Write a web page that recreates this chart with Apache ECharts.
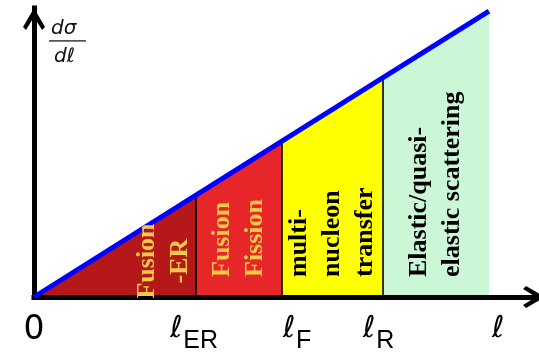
<!DOCTYPE html>
<html>
<head>
<meta charset="utf-8">
<script src="https://cdn.jsdelivr.net/npm/echarts@6/dist/echarts.min.js"></script>
<style>
  html, body { margin: 0; padding: 0; background: #ffffff; }
  #chart { width: 539px; height: 354px; }
</style>
</head>
<body>
<div id="chart"></div>
<script>
// ℓ at the region edges: 0, ℓER, ℓF, ℓR and the end of the shaded range
const edgeL = [0, 32.4, 49.6, 69.8, 91];
// dσ/dℓ at those same edges (the rising straight line)
const edgeSigma = [0, 32.4, 49.6, 69.8, 91];

// reaction regions between consecutive edges
const regionNames = ['Fusion\n-ER', 'Fusion\nFission', 'multi-\nnucleon\ntransfer', 'Elastic/quasi-\nelastic scattering'];
const regionColors = ['#b41818', '#e62628', '#ffff00', '#ccf7d6'];
const regionTextColors = ['#f7c948', '#f7c948', '#000000', '#000000'];

// x-axis tick labels
const tickValues = [0, 32, 52.6, 68.9, 92.8];
const tickMain = ['0', 'ℓ', 'ℓ', 'ℓ', 'ℓ'];
const tickSub = ['', 'ER', 'F', 'R', ''];

const chart = echarts.init(document.getElementById('chart'), null, { renderer: 'canvas' });

// open chevron arrow head (points up; ECharts turns it along the axis)
const chevron = 'path://M11,0 L22,19 L19,22 L11,9 L3,22 L0,19 Z';

const regionData = regionNames.map((name, i) => [edgeL[i], edgeL[i + 1], edgeSigma[i], edgeSigma[i + 1]]);

const option = {
  animation: false,
  backgroundColor: '#ffffff',
  grid: { left: 34, right: 5, top: 8, bottom: 56 },
  xAxis: {
    type: 'value',
    min: 0,
    max: 100,
    z: 2,
    splitLine: { show: false },
    axisTick: { show: false },
    axisLine: {
      show: true,
      onZero: false,
      symbol: ['none', chevron],
      symbolSize: [22, 22],
      symbolOffset: [0, 0],
      lineStyle: { color: '#000000', width: 5, cap: 'square' }
    },
    axisLabel: {
      show: true,
      customValues: tickValues,
      hideOverlap: false,
      margin: 14,
      formatter: function (value) {
        const i = tickValues.indexOf(value);
        if (i < 0) return '';
        if (tickMain[i] === '0') return '{z|0}';
        return '{m|' + tickMain[i] + '}' + (tickSub[i] ? '{s|' + tickSub[i] + '}' : '');
      },
      rich: {
        z: { fontFamily: 'DejaVu Sans', fontSize: 33, color: '#000', lineHeight: 34, verticalAlign: 'top', padding: [3, 0, 0, 0] },
        m: { fontFamily: 'DejaVu Sans', fontStyle: 'italic', fontSize: 30, color: '#000', lineHeight: 34, verticalAlign: 'top', padding: [3, 0, 0, 0] },
        s: { fontFamily: 'Liberation Sans', fontSize: 25, color: '#000', lineHeight: 25, verticalAlign: 'top', padding: [18, 0, 0, 1] }
      }
    }
  },
  yAxis: {
    type: 'value',
    min: 0,
    max: 92,
    z: 2,
    splitLine: { show: false },
    axisTick: { show: false },
    axisLabel: { show: false },
    axisLine: {
      show: true,
      onZero: false,
      symbol: ['none', chevron],
      symbolSize: [22, 22],
      symbolOffset: [0, -11],
      lineStyle: { color: '#000000', width: 5, cap: 'square' }
    }
  },
  graphic: [
    { type: 'text', left: 51, top: 19, z: 10, style: { text: 'dσ', font: 'italic 20px "DejaVu Sans"', fill: '#111' } },
    { type: 'rect', left: 49, top: 40, z: 10, shape: { width: 37, height: 1.8 }, style: { fill: '#555' } },
    { type: 'text', left: 54, top: 47, z: 10, style: { text: 'dℓ', font: 'italic 20px "DejaVu Sans"', fill: '#111' } }
  ],
  series: [
    {
      // coloured regions under the line, with a divider at each inner edge
      type: 'custom',
      z: 1,
      data: regionData,
      encode: { x: [0, 1], y: [2, 3] },
      renderItem: function (params, api) {
        const i = params.dataIndex;
        const x0 = api.value(0), x1 = api.value(1), s0 = api.value(2), s1 = api.value(3);
        const a0 = api.coord([x0, 0]);
        const a1 = api.coord([x1, 0]);
        const b1 = api.coord([x1, s1]);
        const b0 = api.coord([x0, s0]);
        const children = [{
          type: 'polygon',
          shape: { points: [a0, a1, b1, b0] },
          style: { fill: regionColors[i] }
        }];
        if (i > 0) {
          children.push({
            type: 'line',
            shape: { x1: a0[0], y1: a0[1], x2: b0[0], y2: b0[1] },
            style: { stroke: '#000000', lineWidth: 1.6 }
          });
        }
        return { type: 'group', children: children };
      }
    },
    {
      type: 'line',
      z: 3,
      data: edgeL.map((l, i) => [l, edgeSigma[i]]),
      showSymbol: false,
      symbol: 'none',
      clip: false,
      lineStyle: { color: '#0000ff', width: 5, cap: 'butt' }
    },
    {
      // vertical region names
      type: 'custom',
      z: 4,
      data: regionData,
      encode: { x: [0, 1], y: [2, 3] },
      renderItem: function (params, api) {
        const i = params.dataIndex;
        const a0 = api.coord([api.value(0), 0]);
        const a1 = api.coord([api.value(1), 0]);
        const first = i === 0;
        const x = first ? a0[0] + (a1[0] - a0[0]) * 0.8 : (a0[0] + a1[0]) / 2;
        const y = first ? a0[1] - 36 : a0[1] - 20;
        return {
          type: 'text',
          x: x,
          y: y,
          rotation: Math.PI / 2,
          style: {
            text: regionNames[i],
            fill: regionTextColors[i],
            font: 'bold 26px "Liberation Serif"',
            lineHeight: 33,
            align: first ? 'center' : 'left',
            verticalAlign: 'middle'
          }
        };
      }
    }
  ]
};

chart.setOption(option);
</script>
</body>
</html>
